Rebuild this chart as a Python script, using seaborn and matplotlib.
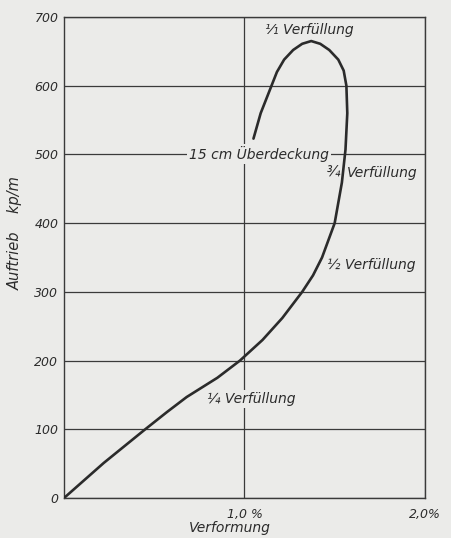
# Auftrieb vs. Verformung, nachgezeichnet
import matplotlib
matplotlib.use("Agg")
import matplotlib.pyplot as plt
import seaborn as sns
import pandas as pd

# Kurve: Verformung in %, Auftrieb in kp/m
verformung = [0.00, 0.22, 0.45, 0.57, 0.68, 0.85, 0.975, 1.10, 1.21, 1.32, 1.38, 1.43, 1.50,
              1.54, 1.56, 1.57, 1.565, 1.55, 1.52, 1.47, 1.42, 1.37, 1.32, 1.27, 1.22,
              1.18, 1.15, 1.09, 1.05]
auftrieb = [0, 51, 100, 125, 147, 175, 200, 230, 262, 300, 324, 350, 400,
            459, 507, 560, 600, 622, 638, 652, 661, 665, 661, 652, 638,
            620, 600, 560, 523]

x_ticks = [1.0, 2.0]
x_ticklabels = ["1,0 %", "2,0%"]
y_ticks = [0, 100, 200, 300, 400, 500, 600, 700]

# Beschriftungen an der Kurve
labels = ["¹⁄₁ Verfüllung", "15 cm Überdeckung", "¾", "Verfüllung", "½ Verfüllung", "¼ Verfüllung"]
label_x = [1.36, 1.47, 1.53, 1.57, 1.457, 0.79]
label_y = [681, 500, 473, 473, 339, 144]
label_ha = ["center", "right", "right", "left", "left", "left"]

df = pd.DataFrame({"Verformung": verformung, "Auftrieb": auftrieb})

paper = "#ebebe9"
ink = "#2b2b2b"

sns.set_theme(style="white")
plt.rcParams["font.family"] = ["DejaVu Sans"]
plt.rcParams["font.style"] = "italic"

fig = plt.figure(figsize=(4.52, 5.38), dpi=100, facecolor=paper)
ax = fig.add_axes([0.1416, 0.0743, 0.7984, 0.8941])
ax.set_facecolor(paper)
ax.set_axisbelow(True)

sns.lineplot(data=df, x="Verformung", y="Auftrieb", sort=False, estimator=None,
             color=ink, linewidth=1.9, ax=ax, zorder=5,
             solid_joinstyle="round", solid_capstyle="round")

ax.set_xlim(0, 2.0)
ax.set_ylim(0, 700)
ax.set_xticks(x_ticks)
ax.set_xticklabels(x_ticklabels)
ax.set_yticks(y_ticks)
ax.set_yticklabels([str(v) for v in y_ticks])
ax.tick_params(axis="both", length=0, labelsize=9, colors=ink)
ax.tick_params(axis="y", pad=4)
ax.tick_params(axis="x", pad=7)
for lab in ax.get_xticklabels() + ax.get_yticklabels():
    lab.set_fontstyle("italic")

ax.grid(True, color="#3a3a3a", linewidth=0.9)
for s in ax.spines.values():
    s.set_color("#3a3a3a")
    s.set_linewidth(1.0)
    s.set_visible(True)

ax.set_xlabel("Verformung", fontsize=10, fontstyle="italic", color=ink)
ax.xaxis.set_label_coords(0.46, -0.047)
ax.set_ylabel("Auftrieb    kp/m", fontsize=10.5, fontstyle="italic", color=ink)
ax.yaxis.set_label_coords(-0.114, 0.55)

for t, x, y, ha in zip(labels, label_x, label_y, label_ha):
    ax.text(x, y, t, ha=ha, va="center", fontsize=10, fontstyle="italic", color=ink,
            zorder=4, bbox=dict(facecolor=paper, edgecolor="none", pad=1.5))

fig.savefig("out.png", dpi=100, facecolor=paper)
